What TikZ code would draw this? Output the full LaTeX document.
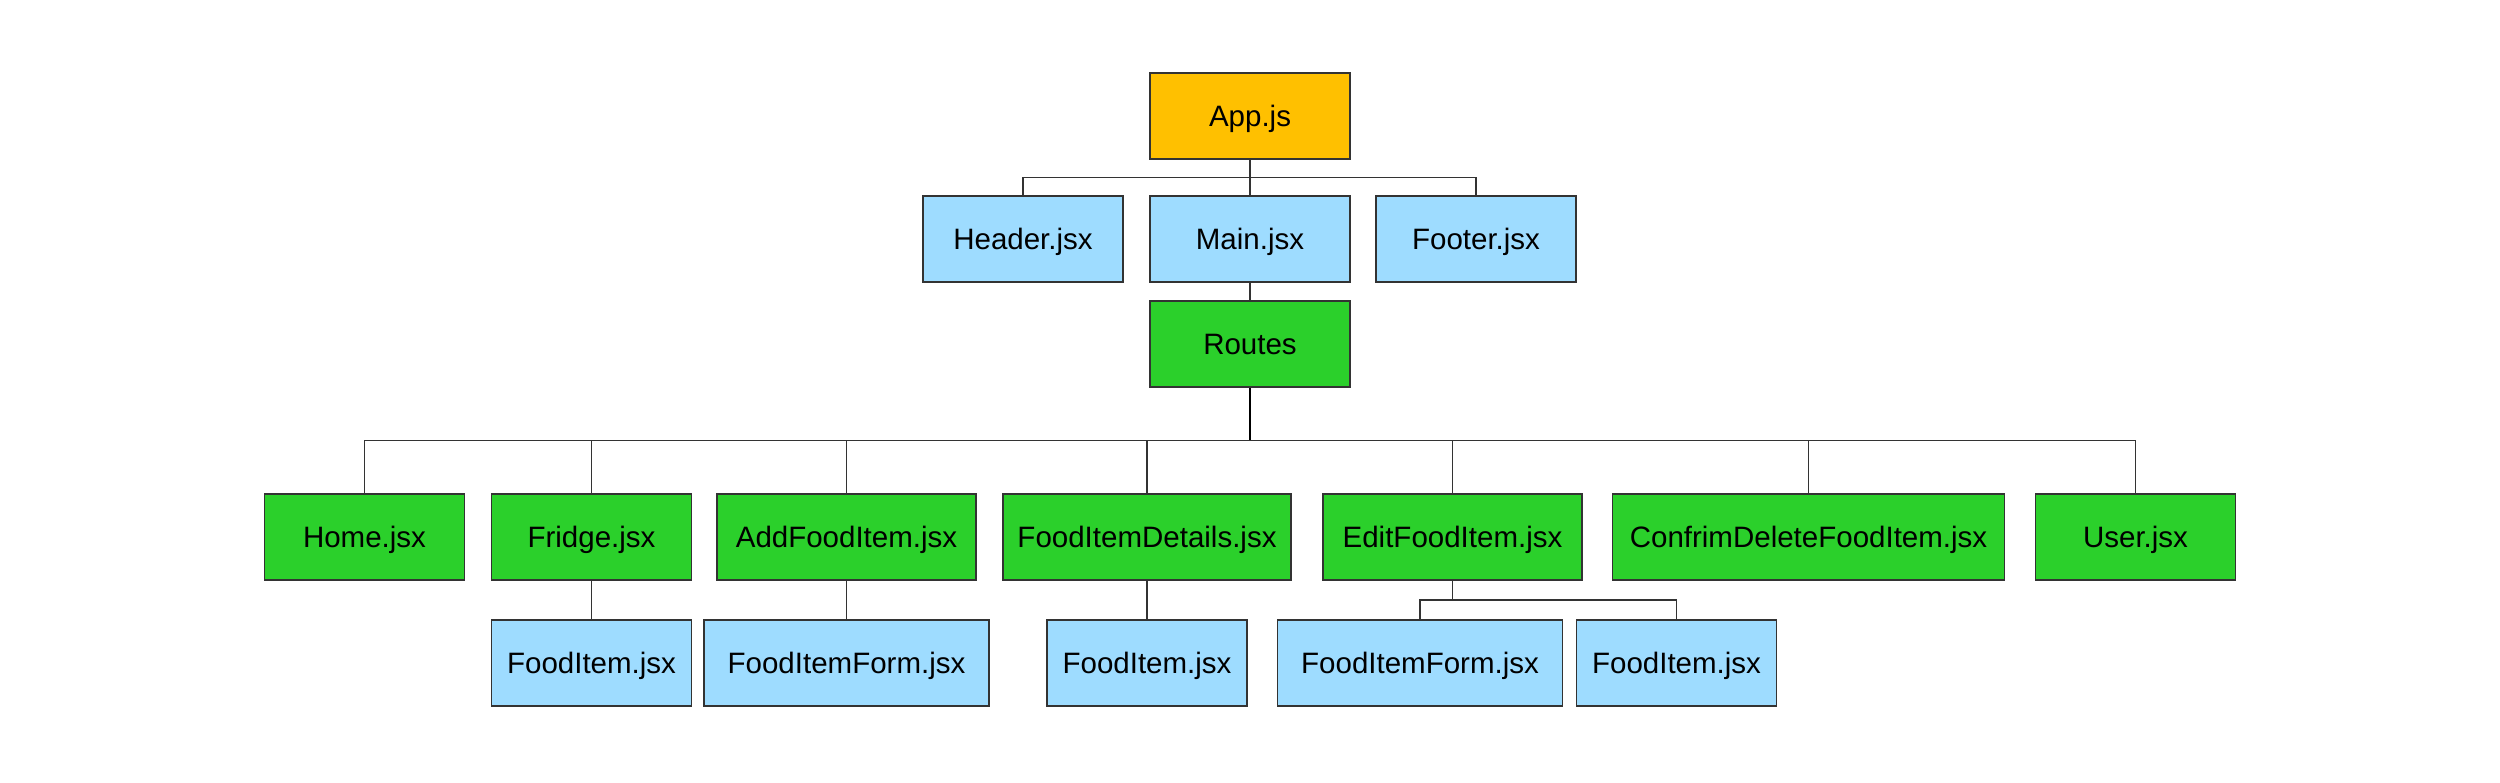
\documentclass[tikz,border=0pt]{standalone}
\usepackage{fontspec}
\setmainfont{Liberation Sans}
\definecolor{orangeF}{RGB}{255,192,0}
\definecolor{blueF}{RGB}{158,220,255}
\definecolor{greenF}{RGB}{43,208,43}
\definecolor{lineC}{RGB}{51,51,51}
\tikzset{
  box/.style={draw=lineC, line width=1.2pt, rectangle, inner sep=0pt, minimum height=86pt, align=center, text height=21pt, text depth=0pt, font=\fontsize{29.5}{34}\selectfont, text=black},
  obox/.style={box, fill=orangeF},
  bbox/.style={box, fill=blueF},
  gbox/.style={box, fill=greenF},
  conn/.style={draw=lineC, line width=1.2pt},
  conn2/.style={draw=black, line width=2.6pt}
}
\begin{document}
\begin{tikzpicture}[x=1pt,y=-1pt]
\useasboundingbox (0,0) rectangle (2500,782);
% top level
\node[obox, minimum width=200pt] (app) at (1250,116) {App.js};
\node[bbox, minimum width=200pt] (header) at (1023,239) {Header.jsx};
\node[bbox, minimum width=200pt] (main) at (1250,239) {Main.jsx};
\node[bbox, minimum width=200pt] (footer) at (1476,239) {Footer.jsx};
\node[gbox, minimum width=200pt] (routes) at (1250,344) {Routes};
% row 3
\node[gbox, minimum width=200pt] (home) at (364.5,537) {Home.jsx};
\node[gbox, minimum width=200pt] (fridge) at (591.5,537) {Fridge.jsx};
\node[gbox, minimum width=259pt] (add) at (846.5,537) {AddFoodItem.jsx};
\node[gbox, minimum width=288pt] (details) at (1147,537) {FoodItemDetails.jsx};
\node[gbox, minimum width=259pt] (edit) at (1452.5,537) {EditFoodItem.jsx};
\node[gbox, minimum width=392pt] (confirm) at (1808.5,537) {ConfrimDeleteFoodItem.jsx};
\node[gbox, minimum width=200pt] (user) at (2135.5,537) {User.jsx};
% row 4
\node[bbox, minimum width=200pt] (fi1) at (591.5,663) {FoodItem.jsx};
\node[bbox, minimum width=285pt] (fif1) at (846.5,663) {FoodItemForm.jsx};
\node[bbox, minimum width=200pt] (fi2) at (1147,663) {FoodItem.jsx};
\node[bbox, minimum width=285pt] (fif2) at (1420,663) {FoodItemForm.jsx};
\node[bbox, minimum width=200pt] (fi3) at (1676.5,663) {FoodItem.jsx};
% buses
\coordinate (b1) at (1250,177.5);
\coordinate (b2) at (1250,440.5);
\coordinate (b3) at (1452.5,600);
% connectors
\draw[conn] (app.south) -- (b1);
\draw[conn] (b1) -| (header.north);
\draw[conn] (b1) -| (footer.north);
\draw[conn] (b1) -- (main.north);
\draw[conn] (main.south) -- (routes.north);
\draw[conn2] (routes.south) -- (b2);
\draw[conn] (b2) -| (home.north);
\draw[conn] (b2) -| (fridge.north);
\draw[conn] (b2) -| (add.north);
\draw[conn] (b2) -| (details.north);
\draw[conn] (b2) -| (edit.north);
\draw[conn] (b2) -| (confirm.north);
\draw[conn] (b2) -| (user.north);
\draw[conn] (fridge.south) -- (fi1.north);
\draw[conn] (add.south) -- (fif1.north);
\draw[conn] (details.south) -- (fi2.north);
\draw[conn] (edit.south) -- (b3);
\draw[conn] (b3) -| (fif2.north);
\draw[conn] (b3) -| (fi3.north);
\end{tikzpicture}
\end{document}
